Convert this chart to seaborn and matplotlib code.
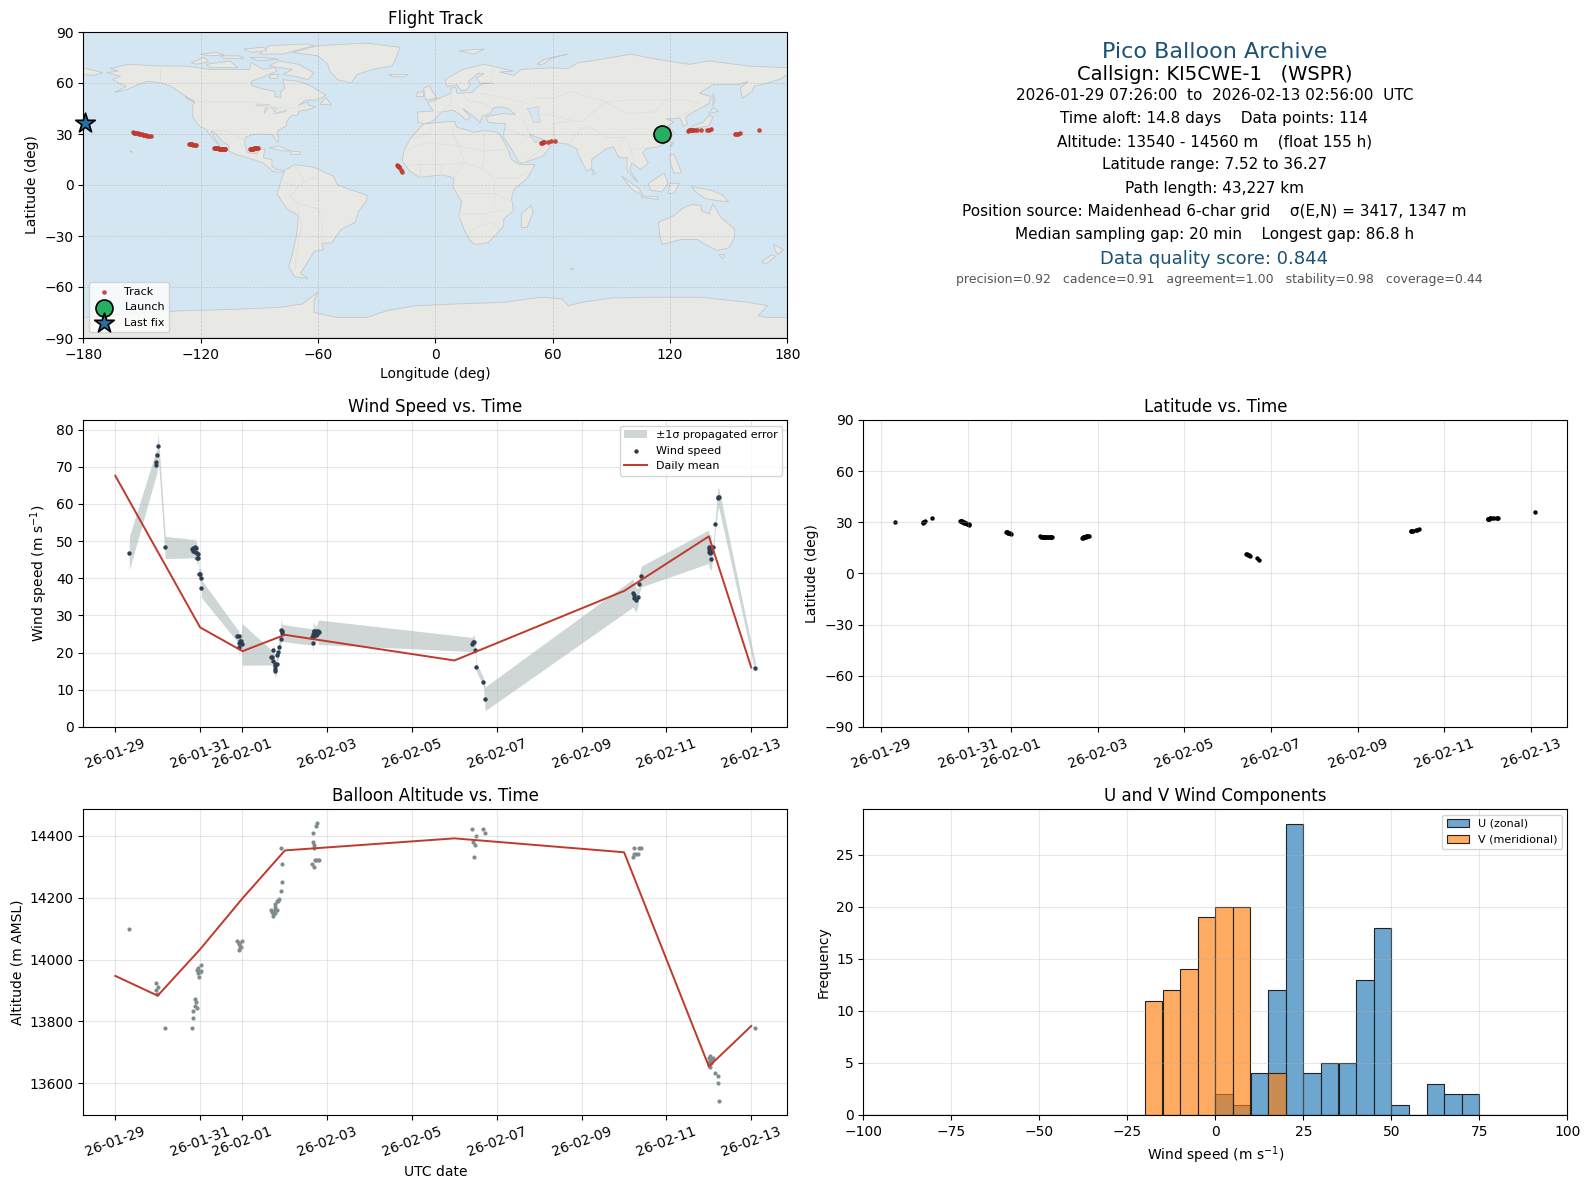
# Pico balloon flight summary, six panels

import numpy as np
import pandas as pd
import matplotlib
matplotlib.use("Agg")
import matplotlib.pyplot as plt
import matplotlib.dates as mdates
import seaborn as sns

# ---- flight data, grouped by reception burst ----
start_day = pd.Timestamp("2026-01-29")

days = [0.330,
        0.967, 0.967, 0.991, 1.014,
        1.179,
        1.816, 1.840, 1.840, 1.879, 1.879, 1.903, 1.918, 1.926, 1.942, 1.958, 1.973, 1.997, 2.028, 2.028,
        2.877, 2.909, 2.917, 2.925, 2.940, 2.972, 2.995,
        3.679, 3.695, 3.719, 3.726, 3.758, 3.758, 3.766, 3.774, 3.805, 3.821, 3.844, 3.868, 3.899, 3.915, 3.923, 3.939,
        4.646, 4.670, 4.670, 4.686, 4.693, 4.693, 4.709, 4.733, 4.741, 4.764, 4.772, 4.796,
        8.420, 8.443, 8.467, 8.491, 8.514, 8.679, 8.726,
        12.217, 12.233, 12.241, 12.280, 12.335, 12.358, 12.406,
        13.994, 14.002, 14.009, 14.025, 14.033, 14.049, 14.057, 14.104,
        14.151, 14.214, 14.222, 14.230,
        15.095]

wind_speed = [46.7,
              71.2, 70.4, 73.1, 75.6,
              48.3,
              48.0, 48.2, 47.4, 48.3, 47.2, 48.1, 46.9, 45.4, 46.6, 45.4, 41.1, 41.3, 40.0, 37.3,
              24.6, 24.6, 21.5, 22.6, 23.1, 23.1, 22.2,
              18.7, 18.8, 17.7, 20.8, 17.0, 15.5, 16.3, 15.1, 17.0, 19.5, 20.3, 21.6, 23.8, 26.2, 25.8, 25.3,
              24.2, 22.7, 25.1, 25.8, 24.4, 25.8, 25.1, 24.7, 25.8, 25.1, 25.8, 25.5,
              22.2, 23.0, 23.0, 20.8, 16.2, 12.2, 7.6,
              36.1, 34.7, 35.5, 34.1, 35.0, 38.6, 40.5,
              48.5, 47.8, 47.2, 47.4, 46.9, 47.1, 45.1, 48.3,
              54.5, 61.8, 61.5, 61.8,
              16.0]

wind_sigma = [4.5,
              3.3, 3.3, 3.3, 3.3,
              3.0,
              2.5, 2.5, 2.5, 2.8, 2.5, 2.5, 2.5, 1.8, 1.8, 1.8, 1.5, 1.5, 2.2, 2.4,
              1.7, 1.7, 2.5, 2.5, 2.0, 2.0, 5.6,
              2.0, 2.0, 2.0, 2.5, 2.0, 2.2, 2.2, 2.2, 2.0, 2.0, 2.0, 2.0, 2.2, 3.4, 2.5, 2.3,
              2.2, 2.8, 3.0, 2.2, 2.2, 2.2, 2.2, 2.2, 2.2, 2.2, 2.5, 3.3,
              1.9, 1.8, 1.5, 1.4, 1.2, 1.2, 3.2,
              3.8, 3.5, 3.5, 3.4, 2.2, 2.5, 2.8,
              4.5, 4.5, 4.5, 4.5, 4.5, 4.9, 3.0, 1.5,
              1.6, 3.0, 3.0, 2.6,
              1.4]

altitude = [14100,
            13923, 13901, 13890, 13910,
            13780,
            13780, 13810, 13832, 13872, 13851, 13861, 13842, 13966, 13971, 13955, 13942, 13960, 13982, 13962,
            14061, 14052, 14051, 14032, 14041, 14041, 14061,
            14161, 14154, 14152, 14142, 14181, 14170, 14152, 14161, 14161, 14190, 14190, 14197, 14223, 14361, 14252, 14310,
            14310, 14380, 14410, 14369, 14300, 14361, 14323, 14323, 14433, 14442, 14323, 14323,
            14423, 14381, 14332, 14371, 14400, 14423, 14410,
            14332, 14342, 14361, 14342, 14342, 14361, 14361,
            13659, 13670, 13681, 13689, 13651, 13675, 13665, 13681,
            13632, 13623, 13600, 13542,
            13780]

latitude = [30.0,
            30.0, 29.8, 30.2, 30.6,
            32.3,
            30.9, 30.8, 30.6, 30.5, 30.3, 30.1, 30.0, 29.8, 29.6, 29.5, 29.3, 29.1, 28.9, 28.7,
            24.4, 24.3, 24.1, 24.0, 23.8, 23.6, 23.4,
            21.7, 21.6, 21.6, 21.5, 21.5, 21.5, 21.4, 21.4, 21.4, 21.4, 21.3, 21.3, 21.3, 21.3, 21.2, 21.2,
            21.0, 21.1, 21.2, 21.3, 21.3, 21.4, 21.5, 21.6, 21.7, 21.8, 21.9, 22.0,
            11.7, 11.3, 11.0, 10.7, 10.3, 9.0, 7.7,
            25.0, 25.0, 25.1, 25.1, 25.4, 25.6, 26.0,
            32.0, 32.1, 32.1, 32.2, 32.2, 32.3, 32.3, 32.4,
            32.5, 32.5, 32.6, 32.7,
            36.3]

longitude = [115.7,
             153.1, 153.6, 154.8, 156.0,
             165.6,
             -154.6, -154.0, -153.4, -152.8, -152.2, -151.6, -151.0, -150.2, -149.5, -148.8, -148.0, -147.2, -146.2, -145.2,
             -125.7, -125.2, -124.8, -124.3, -123.8, -123.0, -122.3,
             -113.0, -112.6, -112.2, -111.8, -111.4, -111.0, -110.6, -110.2, -109.8, -109.4, -109.0, -108.6, -108.2, -107.9, -107.6, -107.3,
             -94.6, -94.2, -94.0, -93.6, -93.3, -93.0, -92.7, -92.3, -92.0, -91.6, -91.3, -90.9,
             -19.5, -19.2, -19.0, -18.8, -18.5, -17.7, -17.2,
             54.2, 54.6, 55.0, 55.8, 57.4, 59.0, 61.3,
             129.3, 129.8, 130.2, 130.8, 131.4, 132.0, 132.6, 134.0,
             136.0, 139.0, 140.2, 141.2,
             -178.9]

# Daily means
mean_days = [0, 1, 2, 3, 4, 8, 12, 14, 15]
mean_wind = [67.6, 47.2, 26.8, 20.4, 24.8, 17.9, 36.6, 51.3, 16.0]
mean_altitude = [13947, 13883, 14033, 14198, 14353, 14392, 14347, 13654, 13785]

launch_lon, launch_lat = 115.7, 30.0
last_lon, last_lat = -178.9, 36.3

# Histogram of the wind components (left bin edge -> count)
u_bins = [0, 5, 10, 15, 20, 25, 30, 35, 40, 45, 50, 60, 65, 70]
u_counts = [2, 1, 4, 12, 28, 4, 5, 5, 13, 18, 1, 3, 2, 2]
v_bins = [-20, -15, -10, -5, 0, 5, 15]
v_counts = [11, 12, 14, 19, 20, 20, 4]

# ---- coastlines, rough lon/lat outlines ----
north_america = [(-168, 66), (-162, 67), (-166, 68.5), (-157, 71), (-141, 70), (-128, 70), (-115, 68), (-108, 68),
                 (-95, 68), (-94, 72), (-88, 68), (-82, 69), (-81, 67), (-87, 64), (-94, 61), (-94, 58.5), (-88, 56.5),
                 (-82, 55), (-82, 52), (-79, 51.5), (-79, 55), (-77, 57), (-78, 62), (-70, 61), (-65, 59), (-62, 57),
                 (-56, 53), (-60, 50), (-66, 50), (-70, 47), (-65, 49), (-65, 47), (-61, 46), (-66, 44), (-70, 43.5),
                 (-70, 41.5), (-74, 40.5), (-76, 37), (-76, 35), (-81, 31.5), (-80, 27), (-80.5, 25), (-82, 27),
                 (-83, 29.5), (-89, 30), (-94, 29.5), (-97, 28), (-97.5, 24), (-96, 19), (-91, 18.5), (-90, 21),
                 (-87, 21), (-88, 16), (-83.5, 15), (-83.5, 11), (-81, 9), (-78, 9), (-77.5, 8), (-80, 7.5), (-83, 8),
                 (-86, 11), (-88, 13), (-92, 14.5), (-96, 16), (-102, 18), (-105.5, 20), (-105.5, 23), (-109, 26),
                 (-113, 31), (-114.8, 31.5), (-112, 26), (-110, 23), (-112, 25), (-115, 29), (-117, 32.5), (-121, 35),
                 (-124, 40), (-124, 47), (-123, 49), (-130, 54), (-135, 58), (-140, 60), (-147, 61), (-152, 59),
                 (-158, 56), (-164, 54.5), (-158, 58), (-162, 60), (-165, 62), (-161, 64), (-168, 66)]
greenland = [(-73, 78), (-60, 82), (-35, 83.5), (-18, 81), (-20, 75), (-22, 70), (-32, 68), (-40, 65), (-43, 60),
             (-50, 62), (-54, 67), (-55, 71), (-60, 76)]
south_america = [(-77, 8.5), (-72, 12), (-62, 10.5), (-52, 5), (-50, 0), (-44, -2.5), (-35, -6), (-35, -9), (-39, -15),
                 (-41, -22), (-48, -26), (-53, -34), (-58, -34.5), (-57, -38), (-62, -39), (-65, -45), (-69, -52),
                 (-65, -55), (-72, -54), (-75, -48), (-73, -40), (-71, -30), (-70, -18), (-76, -14), (-81, -5),
                 (-80, -2), (-79, 2)]
africa = [(-6, 36), (10, 37.5), (11, 34), (20, 31), (25, 32), (32, 31), (34, 28), (37, 21), (39, 15), (43, 12), (51, 12),
          (47, 4), (40, -3), (39, -8), (40, -15), (35, -20), (35, -24), (32, -28), (27, -34), (20, -35), (18, -33),
          (15, -27), (12, -18), (13.5, -10), (9, -1), (9.5, 4), (4, 6), (-4, 5), (-8, 4.5), (-13, 8), (-17, 14.5),
          (-16, 20), (-13, 27), (-9, 32)]
eurasia = [(-9, 37), (-9, 43), (-1, 43.5), (-4, 48.5), (2, 51), (8, 54), (8, 57), (10.5, 57.5), (11, 54), (19, 54.5),
           (21, 57), (24, 59.5), (30, 60), (23, 60), (21, 63), (25, 65.5), (22, 65.8), (17, 61), (18, 59), (16, 56),
           (13, 55.5), (11, 59), (6, 58), (5, 62), (14, 68), (25, 71), (40, 67), (33, 66.5), (40, 64.5), (44, 68),
           (60, 69), (68, 68.5), (73, 72), (80, 73), (100, 77), (113, 74), (130, 71), (140, 73), (160, 70), (180, 69),
           (180, 65), (177, 62.5), (170, 60), (163, 58), (162, 55), (157, 51), (156, 57), (160, 61), (155, 59),
           (142, 59), (135, 54), (141, 52), (140, 48), (132, 43), (128, 40), (129, 36), (126.5, 34.5), (126, 37.5),
           (125, 39.5), (121.5, 39), (118, 39), (122, 37), (119, 35), (122, 31), (120, 26), (114, 22.5), (108, 21.5),
           (106, 19), (109, 13), (105, 9), (100.5, 13), (99.5, 9), (103.5, 1.5), (100, 6), (98, 9), (98, 16), (94, 16),
           (91, 22.5), (87, 21), (80, 15), (80, 10), (77.5, 8), (73, 18), (72.5, 21), (68, 24), (61, 25), (57, 26),
           (51, 28.5), (48, 30), (51, 25), (56, 26), (59, 22.5), (55, 17), (45, 13), (43, 13), (39, 21), (35, 28),
           (35, 31), (36, 36), (30, 36.5), (27, 37), (26, 40), (29, 41), (35, 42), (41, 41.5), (37, 45), (33, 46),
           (30, 45.5), (28, 42), (24, 40.5), (23, 36.5), (20, 40), (14, 45), (18, 40), (16, 38), (12, 42), (9, 44),
           (3, 43), (0, 39), (-2, 37), (-6, 36)]
chukotka = [(-180, 69), (-170, 66), (-175, 64.5), (-180, 65)]
australia = [(114, -22), (122, -18), (126, -14), (131, -11.5), (136, -12), (136, -15), (140, -17), (142, -11), (146, -19),
             (153, -26), (153, -31), (150, -37), (144, -38.5), (138, -35), (134, -32), (126, -32), (116, -35), (115, -31)]
antarctica = [(-180, -90), (-180, -78), (-160, -76), (-130, -74), (-100, -73), (-80, -72), (-68, -70), (-60, -63),
              (-62, -68), (-62, -75), (-50, -78), (-35, -78), (-25, -74), (-10, -71), (10, -70), (35, -69), (54, -66),
              (65, -67), (68, -71), (75, -69), (90, -66.5), (110, -66), (135, -66), (160, -69), (170, -71), (165, -77),
              (170, -78), (180, -78), (180, -90)]
islands = [
    [(-80, 73), (-70, 71), (-62, 66), (-65, 62), (-72, 64), (-78, 65), (-73, 68), (-85, 70)],  # Baffin
    [(-117, 71), (-105, 73), (-101, 69), (-115, 69)],
    [(-90, 77), (-85, 82), (-65, 83), (-62, 82), (-78, 77)],
    [(-125, 72), (-118, 75), (-116, 72.5), (-122, 71)],
    [(-110, 76), (-100, 76), (-98, 74.5), (-108, 74.5)],
    [(-95, 75), (-88, 75), (-80, 74), (-90, 73)],
    [(-120, 77), (-112, 78), (-108, 76.5), (-116, 76)],
    [(-98, 80), (-88, 81), (-86, 79), (-94, 78)],
    [(-84, 65), (-80, 65), (-81, 62.5), (-85, 63)],
    [(-128, 52), (-124, 49), (-123, 48.5), (-127, 51)],
    [(-59, 47.5), (-56, 51.5), (-53, 47)],
    [(-5, 50), (1, 51), (-2, 56), (-3, 58.5), (-6, 57)],
    [(-10, 52), (-6, 52), (-6, 55), (-9, 54.5)],
    [(-24, 65), (-14, 65), (-16, 63.5), (-22, 64)],
    [(130, 33), (136, 34), (140, 35), (142, 40), (140, 41), (137, 37), (132, 35)],  # Japan
    [(140, 42), (145, 43.5), (142, 45.5)],
    [(142, 54), (143, 50), (142, 46)],
    [(120, 22), (122, 25), (121, 25)],
    [(120, 18), (122, 18), (124, 13), (126, 7), (122, 7), (120, 14)],
    [(109, 1), (117, 7), (119, 1), (116, -4), (110, -3)],
    [(95, 5.5), (104, -2), (106, -6), (101, -3)],
    [(105, -6.5), (114, -7), (114, -8.5), (106, -7.5)],
    [(119, -5), (120, 1), (125, 1), (122, -5)],
    [(131, -1), (141, -3), (147, -6), (150, -10), (143, -9), (138, -8), (133, -4)],
    [(145, -41), (148, -41), (147, -43.5)],
    [(173, -35), (178, -38), (175, -41), (174, -39)],
    [(172, -41), (174, -42), (169, -46.5), (167, -45)],
    [(49, -12), (50, -16), (47, -25), (44, -25), (44, -17)],
    [(80, 9.5), (82, 7), (80.5, 6)],
    [(-85, 22), (-80, 23), (-74, 20), (-78, 20)],
    [(-74, 20), (-69, 19.5), (-69, 18), (-74, 18)],
    [(12, 79), (25, 80), (20, 77)],
    [(52, 71), (56, 74), (68, 77), (60, 75), (55, 71)],
    [(-156, 20), (-155, 19.5), (-155.5, 19)],
    [(69, -49), (70.5, -49), (70, -50)],
]
caspian = [(47, 45), (53, 46), (53, 40), (54, 37), (50, 37), (49, 41)]
superior = [(-92, 47), (-85, 47.5), (-85, 46.5), (-90, 46.5)]
michigan = [(-87.5, 42), (-85.5, 45.5), (-87, 45)]
huron = [(-84, 46), (-81, 45), (-82, 43)]
erie_ontario = [(-83, 42), (-76, 44), (-76.5, 43.2), (-79, 42.5)]

land_shapes = [north_america, greenland, south_america, africa, eurasia, chukotka, australia, antarctica] + islands
lake_shapes = [caspian, superior, michigan, huron, erie_ontario]

# Borders, only the larger ones
borders = [
    [(-141, 70), (-141, 60)], [(-123, 49), (-95, 49), (-83, 46), (-75, 45), (-67, 47), (-67, 45)],
    [(-117, 32.5), (-106, 31.5), (-97, 26)], [(-92, 14.5), (-91, 18)],
    [(-70, -18), (-68, -23), (-70, -33), (-72, -50)], [(-58, -34), (-58, -20), (-60, -14), (-70, -11), (-74, -7), (-70, -1), (-67, 2), (-60, 5)],
    [(-70, -11), (-70, -18)], [(-79, 2), (-70, -1)], [(-72, 12), (-67, 2)],
    [(-13, 27), (-3, 30), (-2, 35)], [(-16, 20), (-5, 25), (12, 23), (25, 20), (37, 21)], [(25, 32), (25, 20), (24, 9), (30, 4), (42, 4), (47, 8)],
    [(10, 37), (9, 30), (12, 23), (15, 13), (9, 4)], [(-13, 12), (3, 12), (15, 13), (24, 10)], [(13, -5), (30, -5), (40, -10)], [(12, -17), (24, -17), (35, -15)],
    [(17, -29), (20, -25), (29, -22), (33, -26)], [(30, 4), (30, -12)], [(-8, 5), (-8, 12)], [(3, 12), (3, 6)],
    [(-2, 43), (3, 43), (8, 48), (8, 54)], [(14, 54), (16, 50), (24, 48), (29, 45)], [(24, 54), (32, 52), (40, 50), (47, 48)], [(28, 60), (30, 70)],
    [(47, 42), (60, 41), (70, 38), (75, 37), (80, 42), (87, 49), (100, 50), (118, 50), (128, 50), (135, 48)],
    [(50, 51), (60, 51), (70, 55), (80, 51), (87, 49)], [(87, 49), (98, 42), (112, 43), (118, 50)],
    [(61, 25), (61, 36), (70, 38)], [(45, 38), (48, 30)], [(36, 33), (46, 29), (56, 24)], [(45, 13), (52, 19), (56, 24)], [(68, 24), (74, 33), (78, 35), (88, 28), (97, 28), (94, 22)],
    [(97, 28), (100, 21), (106, 22)], [(100, 21), (102, 12)], [(124, 40), (130, 43)],
]

# Summary block on the right: text, y pixel, size, colour, x shift
info_lines = ["Pico Balloon Archive",
              "Callsign: KI5CWE-1   (WSPR)",
              "2026-01-29 07:26:00  to  2026-02-13 02:56:00  UTC",
              "Time aloft: 14.8 days    Data points: 114",
              "Altitude: 13540 - 14560 m    (float 155 h)",
              "Latitude range: 7.52 to 36.27",
              "Path length: 43,227 km",
              "Position source: Maidenhead 6-char grid    σ(E,N) = 3417, 1347 m",
              "Median sampling gap: 20 min    Longest gap: 86.8 h",
              "Data quality score: 0.844",
              "precision=0.92   cadence=0.91   agreement=1.00   stability=0.98   coverage=0.44"]
info_y = [52, 75, 96, 119, 142, 165, 188.5, 211.5, 235, 259, 280]
info_size = [16, 14, 11, 11, 11, 11, 11, 11, 11, 13, 9]
info_color = ["#1a5276", "black", "black", "black", "black", "black", "black", "black", "black", "#1a5276", "#555555"]
info_shift = [-1, -1, -1, -1, -1, -1, -1, -1, -1, -1, 4]

df = pd.DataFrame({"time": start_day + pd.to_timedelta(days, unit="D"), "wind": wind_speed, "sigma": wind_sigma,
                   "alt": altitude, "lat": latitude, "lon": longitude})
daily = pd.DataFrame({"time": start_day + pd.to_timedelta(mean_days, unit="D"), "wind": mean_wind, "alt": mean_altitude})

RED = "#c0392b"
W, H = 1590, 1189
fig = plt.figure(figsize=(W / 100, H / 100), dpi=100)


def box(left, top, right, bottom):
    return fig.add_axes([left / W, 1 - bottom / H, (right - left) / W, (bottom - top) / H])


def date_axis(ax):
    ax.xaxis.set_major_locator(mdates.DayLocator(bymonthday=range(1, 32, 2)))
    ax.xaxis.set_major_formatter(mdates.DateFormatter("%y-%m-%d"))
    ax.tick_params(axis="x", rotation=20)
    ax.grid(True, alpha=0.3)


ax_map = box(83.3, 32, 787.3, 338)
ax_wind = box(83.3, 420, 787.3, 727)
ax_lat = box(863.3, 420, 1567.3, 727)
ax_alt = box(83.3, 809, 787.3, 1115)
ax_hist = box(863.3, 809, 1567.3, 1115)

# Panel 1: map
ax_map.set_facecolor("#d4e6f1")
for shape in land_shapes:
    lons, lats = zip(*shape)
    ax_map.fill(lons, lats, facecolor="#e8e8e4", edgecolor="#c3c8cb", linewidth=0.6, zorder=1)
for shape in lake_shapes:
    lons, lats = zip(*shape)
    ax_map.fill(lons, lats, facecolor="#d4e6f1", edgecolor="#c3c8cb", linewidth=0.4, zorder=1.1)
for line in borders:
    lons, lats = zip(*line)
    ax_map.plot(lons, lats, color="#dfdfdb", linewidth=0.6, zorder=1.2)
sns.scatterplot(data=df, x="lon", y="lat", s=11, color=RED, linewidth=0, alpha=0.9, label="Track", ax=ax_map, zorder=3)
sns.scatterplot(x=[launch_lon], y=[launch_lat], s=150, color="#27ae60", edgecolor="black", linewidth=1.2,
                label="Launch", ax=ax_map, zorder=5)
sns.scatterplot(x=[last_lon], y=[last_lat], s=220, marker="*", color="#2471a3", edgecolor="black", linewidth=1.2,
                label="Last fix", ax=ax_map, zorder=5, clip_on=False)
ax_map.set_xlim(-180, 180)
ax_map.set_ylim(-90, 90)
ax_map.set_xticks(range(-180, 181, 60))
ax_map.set_yticks(range(-90, 91, 30))
ax_map.grid(True, color="gray", alpha=0.3, linewidth=0.5, linestyle="--", zorder=2)
ax_map.set_title("Flight Track")
ax_map.set_xlabel("Longitude (deg)")
ax_map.set_ylabel("Latitude (deg)")
ax_map.legend(loc="lower left", fontsize=8)

# Panel 2: summary text
info_x = (863.3 + 1567.3) / 2
for text, y, size, color, shift in zip(info_lines, info_y, info_size, info_color, info_shift):
    fig.text((info_x + shift) / W, 1 - y / H, text, ha="center", va="center", fontsize=size, color=color)

# Panel 3: wind speed
ax_wind.fill_between(df["time"], df["wind"] - df["sigma"], df["wind"] + df["sigma"], color="#95a5a6", alpha=0.45,
                     linewidth=0, label="±1σ propagated error")
sns.scatterplot(data=df, x="time", y="wind", s=10, color="#2c3e50", linewidth=0, label="Wind speed", ax=ax_wind, zorder=3)
sns.lineplot(data=daily, x="time", y="wind", color=RED, linewidth=1.4, label="Daily mean", ax=ax_wind, zorder=4)
date_axis(ax_wind)
ax_wind.set_ylim(0, 82.6)
ax_wind.set_title("Wind Speed vs. Time")
ax_wind.set_xlabel("")
ax_wind.set_ylabel("Wind speed (m s$^{-1}$)")
ax_wind.legend(loc="upper right", fontsize=8)

# Panel 4: latitude
sns.scatterplot(data=df, x="time", y="lat", s=10, color="black", linewidth=0, ax=ax_lat)
date_axis(ax_lat)
ax_lat.set_ylim(-90, 90)
ax_lat.set_yticks(range(-90, 91, 30))
ax_lat.set_title("Latitude vs. Time")
ax_lat.set_xlabel("")
ax_lat.set_ylabel("Latitude (deg)")

# Panel 5: altitude
sns.scatterplot(data=df, x="time", y="alt", s=9, color="#7f8c8d", linewidth=0, ax=ax_alt)
sns.lineplot(data=daily, x="time", y="alt", color=RED, linewidth=1.4, ax=ax_alt)
date_axis(ax_alt)
ax_alt.set_title("Balloon Altitude vs. Time")
ax_alt.set_xlabel("UTC date")
ax_alt.set_ylabel("Altitude (m AMSL)")

# Panel 6: histogram
edges = list(np.arange(-100, 105, 5))
sns.histplot(x=np.array(u_bins) + 2.5, weights=u_counts, bins=edges, color="#1f77b4", alpha=0.65, edgecolor="#222222",
             linewidth=0.8, label="U (zonal)", ax=ax_hist)
sns.histplot(x=np.array(v_bins) + 2.5, weights=v_counts, bins=edges, color="#ff7f0e", alpha=0.65, edgecolor="#222222",
             linewidth=0.8, label="V (meridional)", ax=ax_hist)
ax_hist.set_xlim(-100, 100)
ax_hist.grid(True, alpha=0.3)
ax_hist.set_title("U and V Wind Components")
ax_hist.set_xlabel("Wind speed (m s$^{-1}$)")
ax_hist.set_ylabel("Frequency")
ax_hist.legend(fontsize=8)

fig.savefig("out.png", dpi=100)
